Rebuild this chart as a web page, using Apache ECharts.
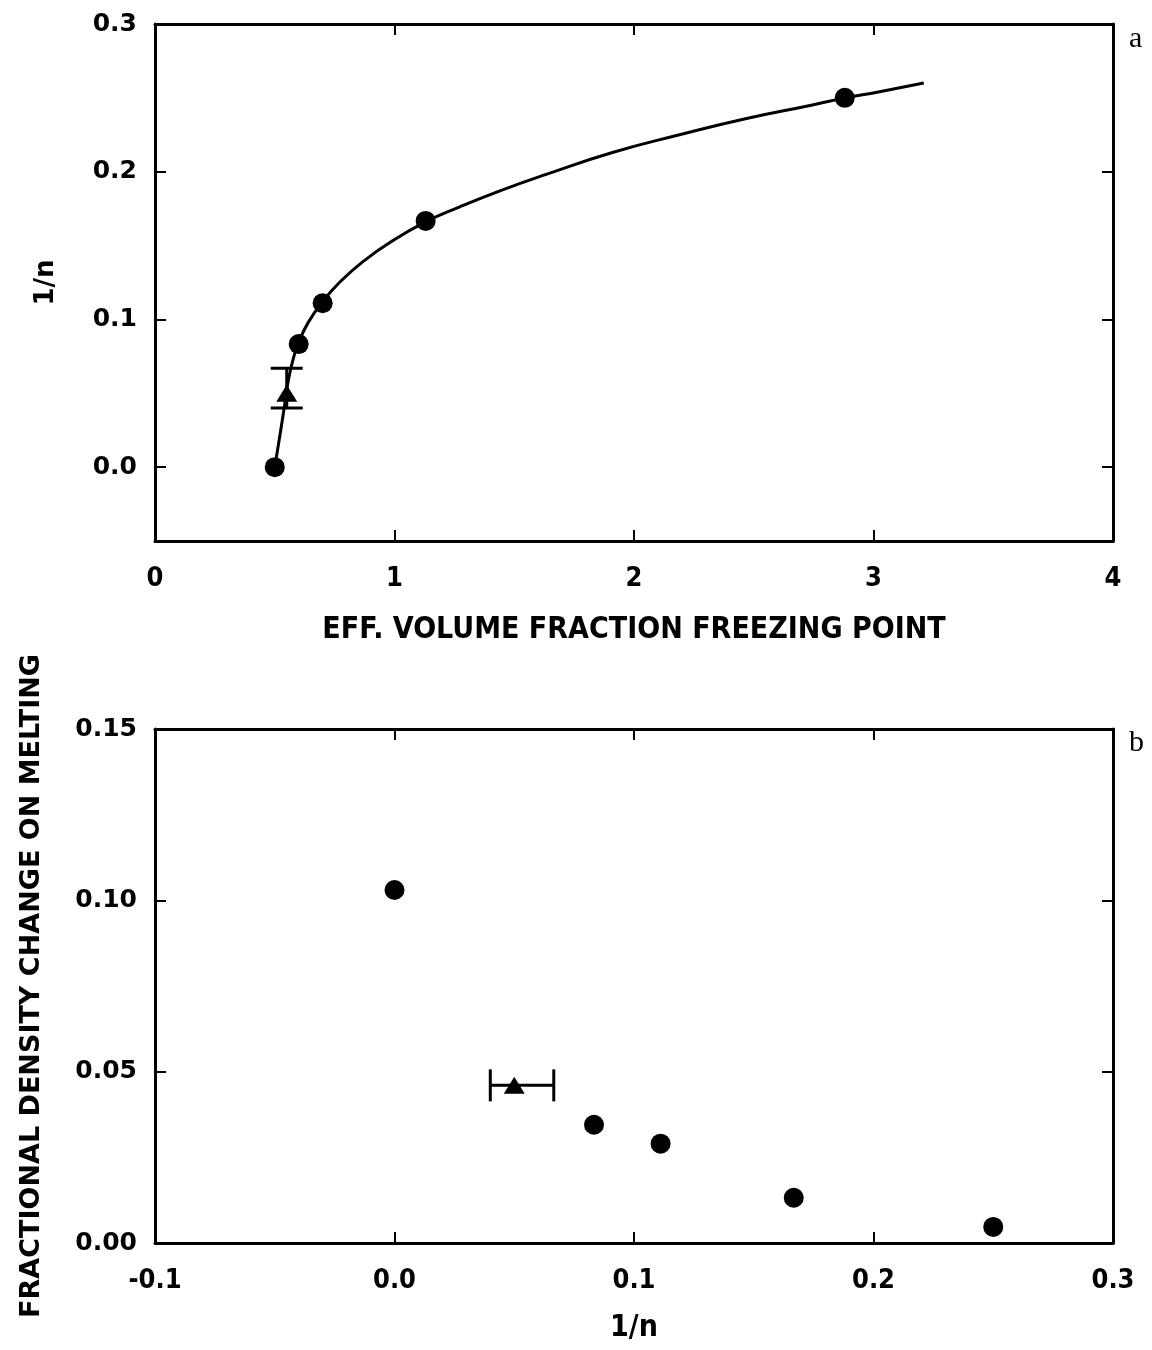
<!DOCTYPE html>
<html>
<head>
<meta charset="utf-8">
<script src="https://cdn.jsdelivr.net/npm/echarts@6/dist/echarts.min.js"></script>
<style>html,body{margin:0;padding:0;background:#fff;}#c{width:1152px;height:1350px;}</style>
</head>
<body>
<div id="c"></div>
<script>
// ---- Panel a data ----
const curveX = [0.50, 0.525, 0.542, 0.556, 0.575, 0.60, 0.64, 0.70, 0.77, 0.867, 0.99, 1.13, 1.27, 1.44, 1.63, 1.91, 2.19, 2.47, 2.74, 2.88, 3.02, 3.21];
const curveY = [0.000, 0.025, 0.043, 0.058, 0.072, 0.0845, 0.098, 0.112, 0.125, 0.139, 0.153, 0.166, 0.176, 0.187, 0.198, 0.213, 0.225, 0.236, 0.245, 0.250, 0.254, 0.260];
const dotsAX = [0.50, 0.60, 0.70, 1.13, 2.88];
const dotsAY = [0.000, 0.0833, 0.111, 0.1667, 0.250];
const triAX = [0.55];
const triAY = [0.050];
const errALow = [0.040];
const errAHigh = [0.067];
const ticksAY = [0, 0.1, 0.2, 0.3];

// ---- Panel b data ----
const dotsBX = [0.000, 0.0833, 0.1111, 0.1667, 0.250];
const dotsBY = [0.103, 0.0345, 0.029, 0.0132, 0.0047];
const triBX = [0.050];
const triBY = [0.046];
const errBLow = [0.040];
const errBHigh = [0.0665];
const ticksBY = [0, 0.05, 0.10, 0.15];

const zip = (a, b) => a.map((v, i) => [v, b[i]]);

const chart = echarts.init(document.getElementById('c'), null, {renderer: 'canvas'});
const black = '#000';
const yLabFont = {fontFamily: 'DejaVu Sans', fontWeight: 'bold', fontSize: 25, color: black};
const xLabFont = {fontFamily: '"Liberation Sans Narrow", "DejaVu Sans Condensed", "Liberation Sans"', fontWeight: 'bold', fontSize: 27, color: black};
const nameFont = {fontFamily: 'DejaVu Sans', fontWeight: 'bold', fontSize: 24, color: black};
const axLine = {show: true, onZero: false, lineStyle: {color: black, width: 3}};
const tick = (vals) => Object.assign({show: true, inside: true, length: 11, lineStyle: {color: black, width: 2}}, vals ? {customValues: vals} : {});

function errBarV(params, api) {
  const x = api.value(0), lo = api.value(1), hi = api.value(2);
  const pl = api.coord([x, lo]), ph = api.coord([x, hi]);
  const w = 16;
  const st = {stroke: black, lineWidth: 3};
  return {type: 'group', children: [
    {type: 'line', shape: {x1: pl[0], y1: pl[1], x2: ph[0], y2: ph[1]}, style: st},
    {type: 'line', shape: {x1: pl[0] - w, y1: pl[1], x2: pl[0] + w, y2: pl[1]}, style: st},
    {type: 'line', shape: {x1: ph[0] - w, y1: ph[1], x2: ph[0] + w, y2: ph[1]}, style: st}
  ]};
}
function errBarH(params, api) {
  const y = api.value(0), lo = api.value(1), hi = api.value(2);
  const pl = api.coord([lo, y]), ph = api.coord([hi, y]);
  const h = 16;
  const st = {stroke: black, lineWidth: 3};
  return {type: 'group', children: [
    {type: 'line', shape: {x1: pl[0], y1: pl[1], x2: ph[0], y2: ph[1]}, style: st},
    {type: 'line', shape: {x1: pl[0], y1: pl[1] - h, x2: pl[0], y2: pl[1] + h}, style: st},
    {type: 'line', shape: {x1: ph[0], y1: ph[1] - h, x2: ph[0], y2: ph[1] + h}, style: st}
  ]};
}
const markStyle = {color: black, opacity: 1};

const option = {
  backgroundColor: '#fff',
  animation: false,
  grid: [
    {left: 155, top: 24, width: 958, height: 517},
    {left: 155, top: 729, width: 958, height: 514}
  ],
  xAxis: [
    {gridIndex: 0, type: 'value', min: 0, max: 4, interval: 1, position: 'bottom',
     axisLine: axLine, axisTick: tick(), splitLine: {show: false},
     axisLabel: Object.assign({margin: 24, formatter: v => String(Math.round(v))}, xLabFont),
     name: 'EFF. VOLUME FRACTION FREEZING POINT', nameLocation: 'middle', nameGap: 74,
     nameTextStyle: Object.assign({}, xLabFont, {fontSize: 30})},
    {gridIndex: 0, type: 'value', min: 0, max: 4, interval: 1, position: 'top',
     axisLine: axLine, axisTick: tick(), axisLabel: {show: false}, splitLine: {show: false}},
    {gridIndex: 1, type: 'value', min: -0.1, max: 0.3, interval: 0.1, position: 'bottom',
     axisLine: axLine, axisTick: tick(), splitLine: {show: false},
     axisLabel: Object.assign({margin: 24, formatter: v => (Math.abs(v) < 1e-9 ? 0 : v).toFixed(1)}, xLabFont),
     name: '1/n', nameLocation: 'middle', nameGap: 70,
     nameTextStyle: Object.assign({}, xLabFont, {fontSize: 30})},
    {gridIndex: 1, type: 'value', min: -0.1, max: 0.3, interval: 0.1, position: 'top',
     axisLine: axLine, axisTick: tick(), axisLabel: {show: false}, splitLine: {show: false}}
  ],
  yAxis: [
    {gridIndex: 0, type: 'value', min: -0.05, max: 0.3, position: 'left',
     axisLine: axLine, axisTick: tick(ticksAY), splitLine: {show: false},
     axisLabel: Object.assign({margin: 18, customValues: ticksAY, formatter: v => v.toFixed(1)}, yLabFont),
     name: '1/n', nameLocation: 'middle', nameGap: 96, nameRotate: 90,
     nameTextStyle: Object.assign({}, nameFont, {fontSize: 26})},
    {gridIndex: 0, type: 'value', min: -0.05, max: 0.3, position: 'right',
     axisLine: axLine, axisTick: tick(ticksAY), axisLabel: {show: false, customValues: ticksAY}, splitLine: {show: false}},
    {gridIndex: 1, type: 'value', min: 0, max: 0.15, position: 'left',
     axisLine: axLine, axisTick: tick(ticksBY), splitLine: {show: false},
     axisLabel: Object.assign({margin: 18, customValues: ticksBY, formatter: v => v.toFixed(2)}, yLabFont),
     name: 'FRACTIONAL DENSITY CHANGE ON MELTING', nameLocation: 'middle', nameGap: 110, nameRotate: 90,
     nameTextStyle: Object.assign({}, nameFont, {fontSize: 27})},
    {gridIndex: 1, type: 'value', min: 0, max: 0.15, position: 'right',
     axisLine: axLine, axisTick: tick(ticksBY), axisLabel: {show: false, customValues: ticksBY}, splitLine: {show: false}}
  ],
  series: [
    {type: 'line', xAxisIndex: 0, yAxisIndex: 0, data: zip(curveX, curveY), smooth: 0.5,
     showSymbol: false, symbol: 'none', lineStyle: {color: black, width: 3}, z: 2},
    {type: 'custom', xAxisIndex: 0, yAxisIndex: 0, renderItem: errBarV,
     data: triAX.map((x, i) => [x, errALow[i], errAHigh[i]]), encode: {x: 0, y: [1, 2]}, z: 3},
    {type: 'scatter', xAxisIndex: 0, yAxisIndex: 0, data: zip(dotsAX, dotsAY), symbol: 'circle', symbolSize: 20,
     itemStyle: markStyle, z: 4},
    {type: 'scatter', xAxisIndex: 0, yAxisIndex: 0, data: zip(triAX, triAY), symbol: 'triangle', symbolSize: [21, 17],
     itemStyle: markStyle, z: 4},
    {type: 'custom', xAxisIndex: 2, yAxisIndex: 2, renderItem: errBarH,
     data: triBY.map((y, i) => [y, errBLow[i], errBHigh[i]]), encode: {y: 0, x: [1, 2]}, z: 3},
    {type: 'scatter', xAxisIndex: 2, yAxisIndex: 2, data: zip(dotsBX, dotsBY), symbol: 'circle', symbolSize: 20,
     itemStyle: markStyle, z: 4},
    {type: 'scatter', xAxisIndex: 2, yAxisIndex: 2, data: zip(triBX, triBY), symbol: 'triangle', symbolSize: [21, 17],
     itemStyle: markStyle, z: 4}
  ],
  graphic: [
    {type: 'text', left: 1129, top: 24, style: {text: 'a', font: '30px "Liberation Serif", "DejaVu Serif", serif', fill: black}},
    {type: 'text', left: 1129, top: 728, style: {text: 'b', font: '30px "Liberation Serif", "DejaVu Serif", serif', fill: black}}
  ]
};
chart.setOption(option);
</script>
</body>
</html>
